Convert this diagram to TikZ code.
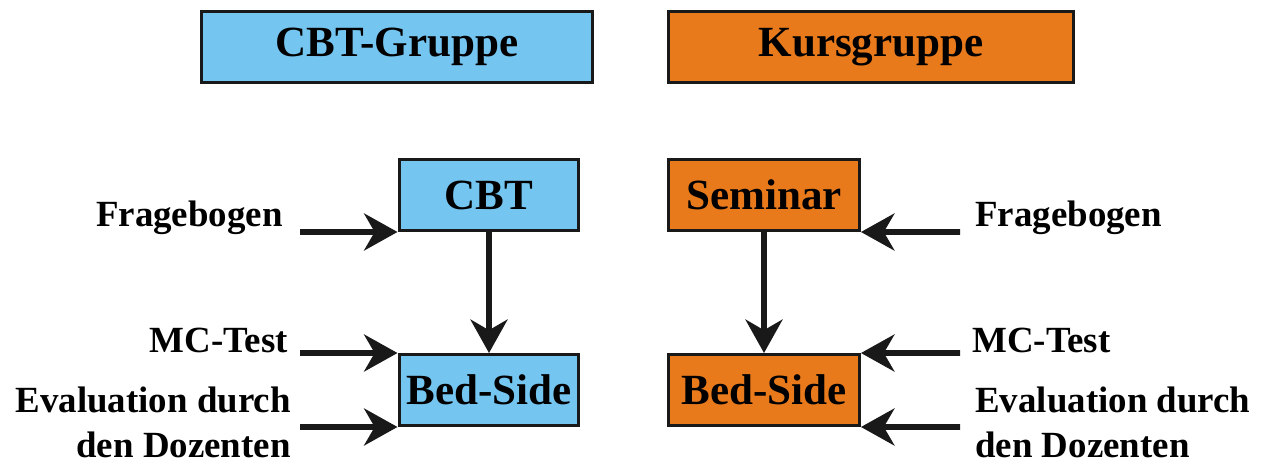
\documentclass[tikz,border=0pt]{standalone}
\usepackage{fontspec}
\setmainfont{Liberation Serif}
\usetikzlibrary{arrows.meta}
\definecolor{cbtblue}{RGB}{116,197,240}
\definecolor{kursorange}{RGB}{232,122,28}
\begin{document}
\begin{tikzpicture}[
    x=0.02cm, y=-0.02cm,
    box/.style={draw=black!90, line width=1.7pt, minimum height=1.42cm, inner sep=0pt,
        font=\fontsize{24.5}{28}\selectfont\bfseries},
    blue box/.style={box, fill=cbtblue},
    orange box/.style={box, fill=kursorange},
    label/.style={inner sep=0pt, font=\fontsize{21}{25.5}\selectfont\bfseries},
    arr/.style={-{Stealth[length=19pt, width=21pt, inset=6pt]}, line width=3.2pt, black!90}
]
\useasboundingbox (0,0) rectangle (1265,464);

% Gruppen
\node[blue box, minimum width=7.82cm] (cbtgr) at (397,47) {CBT-Gruppe};
\node[orange box, minimum width=8.1cm] (kursgr) at (871,47) {Kursgruppe};

% CBT-Gruppe
\node[blue box, minimum width=3.6cm] (cbt) at (489,195) {CBT};
\node[blue box, minimum width=3.6cm] (bedL) at (489,390) {Bed-Side};
\node[label, anchor=east] (fragL) at (283,218) {Fragebogen};
\node[label, anchor=east] (mcL) at (288,340) {MC-Test};
\node[label, anchor=east, align=right] (evalL) at (291,422) {Evaluation durch\\den Dozenten};
\coordinate (fragLin) at (300,232);
\coordinate (mcLin) at (300,353);
\coordinate (evalLin) at (300,427);

% Kursgruppe
\node[orange box, minimum width=3.82cm] (sem) at (764,195) {Seminar};
\node[orange box, minimum width=3.82cm] (bedR) at (764,390) {Bed-Side};
\node[label, anchor=west] (fragR) at (975,218) {Fragebogen};
\node[label, anchor=west] (mcR) at (972,340) {MC-Test};
\node[label, anchor=west, align=left] (evalR) at (975,422) {Evaluation durch\\den Dozenten};
\coordinate (fragRin) at (960,232);
\coordinate (mcRin) at (960,353);
\coordinate (evalRin) at (960,427);

% Arrows
\draw[arr] (cbt) -- (bedL);
\draw[arr] (fragLin) -- (cbt.south west);
\draw[arr] (mcLin) -- (bedL.north west);
\draw[arr] (evalLin) -- (bedL.south west);
\draw[arr] (sem) -- (bedR);
\draw[arr] (fragRin) -- (sem.south east);
\draw[arr] (mcRin) -- (bedR.north east);
\draw[arr] (evalRin) -- (bedR.south east);
\end{tikzpicture}
\end{document}
